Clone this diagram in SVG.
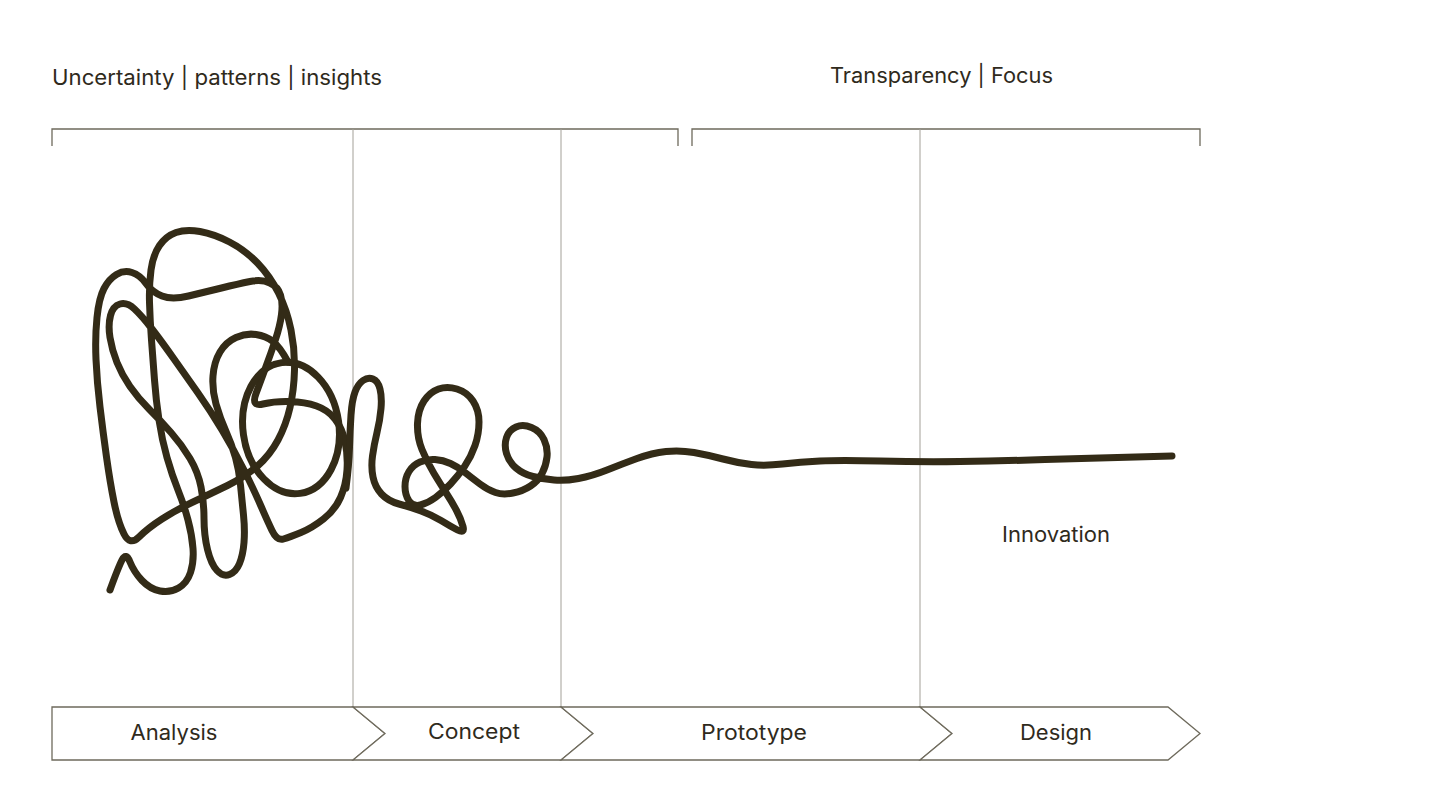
<svg xmlns="http://www.w3.org/2000/svg" width="1444" height="794" viewBox="0 0 1444 794">
<style>
.lbl{font-family:Inter,"Liberation Sans",Arial,sans-serif;font-size:21px;fill:#2f2a1c}
.mid{text-anchor:middle}
.chev{fill:#ffffff;stroke:#6e6a5c;stroke-width:1.3}
.brk{fill:none;stroke:#6e6a5c;stroke-width:1.3}
.vline{stroke:#a3a098;stroke-width:1}
.line{fill:none;stroke:#332b17;stroke-width:7;stroke-linecap:round;stroke-linejoin:round}
</style>
<rect width="1444" height="794" fill="#ffffff"/>
<g id="brackets">
<path class="brk" d="M52,146 V129 H678 V146"/>
<path class="brk" d="M692,146 V129 H1200 V146"/>
</g>
<g id="dividers">
<line class="vline" x1="353" y1="129" x2="353" y2="707"/>
<line class="vline" x1="561" y1="129" x2="561" y2="707"/>
<line class="vline" x1="920" y1="129" x2="920" y2="707"/>
</g>
<g id="header-left"><text class="lbl" x="52" y="85" textLength="330" lengthAdjust="spacingAndGlyphs">Uncertainty | patterns | insights</text></g>
<g id="header-right"><text class="lbl" x="830" y="83" textLength="223" lengthAdjust="spacingAndGlyphs">Transparency | Focus</text></g>
<g id="scribble">
<path class="line" d="M110,590 Q118,568 122,560 Q126,552 130,562 Q134,572 142,580.5 Q150,589 160,591 Q170,593 178.5,588 Q187,583 190.5,572.5 Q194,562 193,548.5 Q192,535 188,520 Q184,505 178,490 Q172,475 167,457.5 Q162,440 159,420 Q156,400 154.5,380 Q153,360 151.5,340 Q150,320 149.5,302.5 Q149,285 151,270 Q153,255 159.5,245.5 Q166,236 176,232.5 Q186,229 200,231.5 Q214,234 229.5,242 Q245,250 257.5,263 Q270,276 278.5,293 Q287,310 291,330 Q295,350 294.5,370 Q294,390 290,407.5 Q286,425 278,440 Q270,455 257.5,466 Q245,477 227.5,485.5 Q210,494 193,502 Q176,510 162,519 Q148,528 139,537 Q130,546 124,534 Q118,522 114,502 Q110,482 106.5,457 Q103,432 100,407 Q97,382 96,359.5 Q95,337 97,317.5 Q99,298 104,288.5 Q109,279 116.5,274.5 Q124,270 132,272.5 Q140,275 146,283.5 Q152,292 162,296 Q172,300 188.5,296 Q205,292 221.5,288 Q238,284 250,281.5 Q262,279 270,283 Q278,287 280.5,295 Q283,303 281.5,314.5 Q280,326 275.5,339.5 Q271,353 266,366.5 Q261,380 256,393.5 Q251,407 263,404 Q275,401 290,401.5 Q305,402 316.5,406 Q328,410 335,419 Q342,428 345,441.5 Q348,455 347,470 Q346,485 340.5,497.5 Q335,510 323.5,519 Q312,528 301,532.5 Q290,537 283.5,539 Q277,541 272,530.5 Q267,520 260.5,505 Q254,490 244,470 Q234,450 222,430 Q210,410 198,393 Q186,376 174,359 Q162,342 152,329 Q142,316 134.5,309 Q127,302 120,304 Q113,306 110.5,315.5 Q108,325 110,337.5 Q112,350 117,362.5 Q122,375 130,386.5 Q138,398 149,409 Q160,420 171,432.5 Q182,445 190,458.5 Q198,472 201,487 Q204,502 204,518.5 Q204,535 207.5,549.5 Q211,564 217,570.5 Q223,577 229.5,574.5 Q236,572 239.5,563.5 Q243,555 244,542.5 Q245,530 243.5,515 Q242,500 240.5,485 Q239,470 235.5,457.5 Q232,445 226,431.5 Q220,418 216,404 Q212,390 213,376 Q214,362 220,352 Q226,342 236,337.5 Q246,333 256,334.5 Q266,336 273,341.5 Q280,347 288,362"/>
<ellipse class="line" cx="291" cy="428" rx="48" ry="66" transform="rotate(-8 291 428)"/>
<path class="line" d="M346,488 Q349,465 349.5,447.5 Q350,430 351,415 Q352,400 355,392 Q358,384 363,380.5 Q368,377 373,379 Q378,381 380,389 Q382,397 381,408.5 Q380,420 377,432.5 Q374,445 372.5,456 Q371,467 373,477 Q375,487 381.5,494 Q388,501 399,504 Q410,507 421,511 Q432,515 441,520.5 Q450,526 457.5,530 Q465,534 463,526.5 Q461,519 456.5,510.5 Q452,502 446.5,493.5 Q441,485 434,473.5 Q427,462 422,449.5 Q417,437 417.5,423.5 Q418,410 424,401 Q430,392 438.5,389 Q447,386 457,389 Q467,392 473,401 Q479,410 479,422 Q479,434 475,445.5 Q471,457 464.5,466.5 Q458,476 450.5,484 Q443,492 435.5,497.5 Q428,503 420.5,505 Q413,507 409,501 Q405,495 405,486.5 Q405,478 409,471.5 Q413,465 420,462 Q427,459 435,459.5 Q443,460 450.5,463.5 Q458,467 465,472.5 Q472,478 480,484 Q488,490 495.5,492.5 Q503,495 513,493 Q523,491 530.5,486 Q538,481 542,473.5 Q546,466 547,457 Q548,448 544,439.5 Q540,431 531.5,427.5 Q523,424 516,427 Q509,430 506.5,437.5 Q504,445 506.5,453.5 Q509,462 516,468 Q523,474 533,476.5 Q543,479 554,480 Q565,481 578.5,478.5 Q592,476 607,470 Q622,464 637,458.5 Q652,453 666,451.5 Q680,450 694,452.5 Q708,455 723,459 Q738,463 751.5,464.5 Q765,466 782.5,464 Q800,462 820,461 Q840,460 880,461 Q920,462 960,461.5 Q1000,461 1045,459.5 Q1090,458 1172,456"/>
</g>
<g id="innovation"><text class="lbl mid" x="1056" y="542" textLength="108" lengthAdjust="spacingAndGlyphs">Innovation</text></g>
<g id="analysis">
<polygon class="chev" points="52,707 353,707 385,733.5 353,760 52,760"/>
<text class="lbl mid" x="174" y="740" textLength="87" lengthAdjust="spacingAndGlyphs">Analysis</text>
</g>
<g id="concept">
<polygon class="chev" points="353,707 561,707 593,733.5 561,760 353,760 385,733.5"/>
<text class="lbl mid" x="474" y="739" textLength="92" lengthAdjust="spacingAndGlyphs">Concept</text>
</g>
<g id="prototype">
<polygon class="chev" points="561,707 920,707 952,733.5 920,760 561,760 593,733.5"/>
<text class="lbl mid" x="754" y="740" textLength="106" lengthAdjust="spacingAndGlyphs">Prototype</text>
</g>
<g id="design">
<polygon class="chev" points="920,707 1168,707 1200,733.5 1168,760 920,760 952,733.5"/>
<text class="lbl mid" x="1056" y="740" textLength="72" lengthAdjust="spacingAndGlyphs">Design</text>
</g>
</svg>
